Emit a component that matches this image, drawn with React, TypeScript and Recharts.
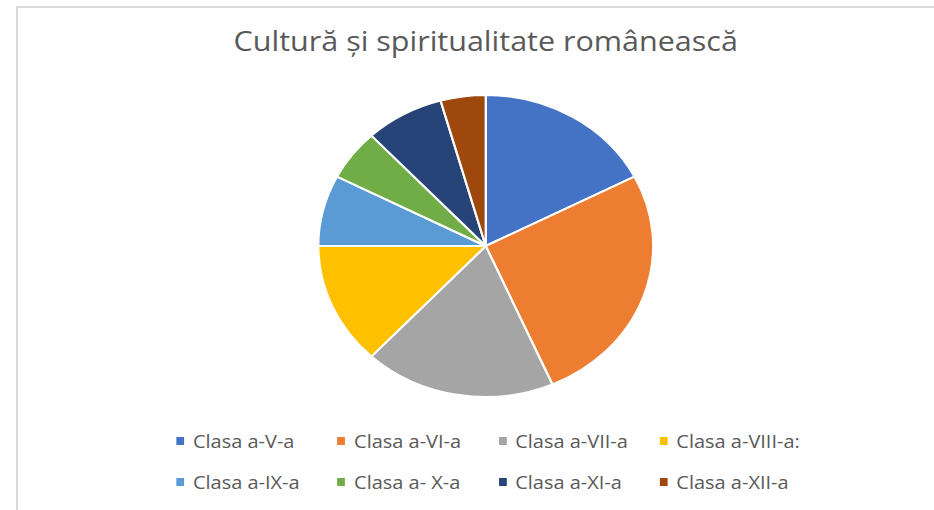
import { PieChart, Pie, Cell, Legend } from "recharts";

const classes = [
  "Clasa a-V-a",
  "Clasa a-VI-a",
  "Clasa a-VII-a",
  "Clasa a-VIII-a:",
  "Clasa a-IX-a",
  "Clasa a- X-a",
  "Clasa a-XI-a",
  "Clasa a-XII-a",
];
const counts = [16, 24, 17, 12, 7, 5, 7, 4];
const COLORS = ["#4472C4", "#ED7D31", "#A5A5A5", "#FFC000", "#5B9BD5", "#70AD47", "#264478", "#9E480E"];

const TITLE = "Cultură și spiritualitate românească";
const FONT = "'Segoe UI', 'Open Sans', sans-serif";
// the reference is stretched horizontally, so the chart is drawn narrower and scaled
const SX = 1.109;
const W = 842;
const H = 510;
const CX = 438;

const data = classes.map((name, i) => ({ name, value: counts[i] }));

function LegendGrid() {
  return (
    <div style={{ position: "relative", width: W, height: 80 }}>
      {classes.map((name, i) => (
        <div
          key={name}
          style={{
            position: "absolute",
            left: 159 + (i % 4) * 145.3,
            top: Math.floor(i / 4) * 41,
            height: 20,
            display: "flex",
            alignItems: "center",
            fontFamily: FONT,
            fontSize: 18,
            color: "#595959",
            whiteSpace: "nowrap",
          }}
        >
          <span style={{ width: 7, height: 8, background: COLORS[i], marginRight: 8, display: "inline-block" }} />
          <span style={{ lineHeight: 1 }}>{name}</span>
        </div>
      ))}
    </div>
  );
}

export default function App() {
  return (
    <div style={{ position: "absolute", left: 0, top: 0, width: 934, height: 510, overflow: "hidden", background: "#fff" }}>
      <div
        style={{
          position: "absolute",
          left: 16,
          top: 6,
          width: 1000,
          height: 600,
          borderTop: "2px solid #d9d9d9",
          borderLeft: "2px solid #d9d9d9",
        }}
      />
      <div style={{ position: "absolute", left: 0, top: 0, transform: `scaleX(${SX})`, transformOrigin: "0 0" }}>
        <div
          style={{
            position: "absolute",
            left: CX - 400,
            top: 27,
            width: 800,
            textAlign: "center",
            fontFamily: FONT,
            fontSize: 27.5,
            lineHeight: 1,
            color: "#595959",
          }}
        >
          {TITLE}
        </div>
        <PieChart width={W} height={H} margin={{ top: 0, right: 0, bottom: 0, left: 0 }}>
          <Pie
            data={data}
            dataKey="value"
            nameKey="name"
            cx={CX}
            cy={246}
            outerRadius={151}
            startAngle={90}
            endAngle={-270}
            stroke="#fff"
            strokeWidth={2}
            isAnimationActive={false}
          >
            {data.map((_, i) => (
              <Cell key={i} fill={COLORS[i]} />
            ))}
          </Pie>
          <Legend wrapperStyle={{ left: 0, top: 431, bottom: "auto", width: W }} content={() => <LegendGrid />} />
        </PieChart>
      </div>
    </div>
  );
}
